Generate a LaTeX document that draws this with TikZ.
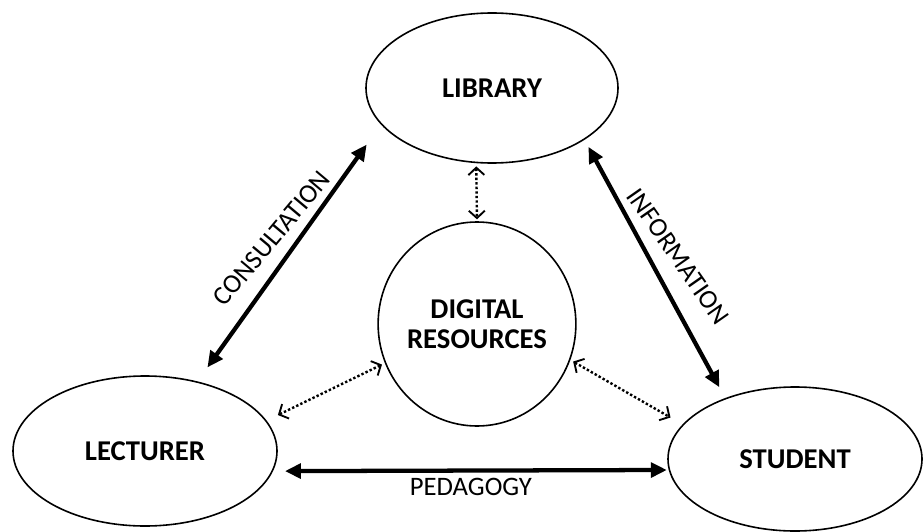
\documentclass[tikz,border=0pt]{standalone}
\usepackage{fontspec}
\setmainfont{Carlito}
\usetikzlibrary{arrows.meta,shapes.geometric}
\tikzstyle{blob}=[draw,ellipse,line width=1.2pt,inner sep=0pt,outer sep=0pt,align=center,font=\fontsize{21.5}{22.5}\selectfont\bfseries]
\tikzstyle{link}=[line width=3.2pt,{Triangle[length=12pt,width=11pt]}-{Triangle[length=12pt,width=11pt]}]
\tikzstyle{weak}=[line width=1.8pt,dash pattern=on 1.8pt off 1.6pt,{Straight Barb[length=5.5pt,width=12pt,line width=1.4pt]}-{Straight Barb[length=5.5pt,width=12pt,line width=1.4pt]}]
\tikzstyle{tag}=[font=\fontsize{20}{24}\selectfont,inner sep=4pt]

\begin{document}
\begin{tikzpicture}[x=0.75pt,y=-0.75pt]
\useasboundingbox (0,0) rectangle (923,531);
\node [blob,minimum width=189pt,minimum height=112.5pt] (lib) at (492,88) {LIBRARY};
\node [blob,minimum width=133.5pt,minimum height=153pt] (dig) at (477,324) {DIGITAL\\RESOURCES};
\node [blob,minimum width=198pt,minimum height=112.5pt] (lec) at (145,451) {LECTURER};
\node [blob,minimum width=190.5pt,minimum height=108pt] (stu) at (795,459) {STUDENT};

% main links
\draw [link,shorten <=13.5pt,shorten >=19pt] (lec.53) -- (lib.198)
  node [midway,xshift=-13pt,yshift=11pt,rotate=50,tag] {CONSULTATION};
\draw [link,shorten <=6.6pt,shorten >=9.75pt] (lib.331) -- (stu.139)
  node [midway,xshift=17.5pt,yshift=9.5pt,rotate=-55,tag] {INFORMATION};
\draw [link,shorten <=9.6pt,shorten >=2pt] (lec.-9) -- (stu.185.5)
  node [midway,below,tag] {PEDAGOGY};

% digital resources
\draw [weak,shorten <=3pt,shorten >=2pt] (lib.258.6) -- (dig.north);
\draw [weak,shorten <=10pt,shorten >=3pt] (lec.14) -- (dig.203.5);
\draw [weak,shorten <=3pt,shorten >=11pt] (dig.339.3) -- (stu.163.3);
\end{tikzpicture}
\end{document}
